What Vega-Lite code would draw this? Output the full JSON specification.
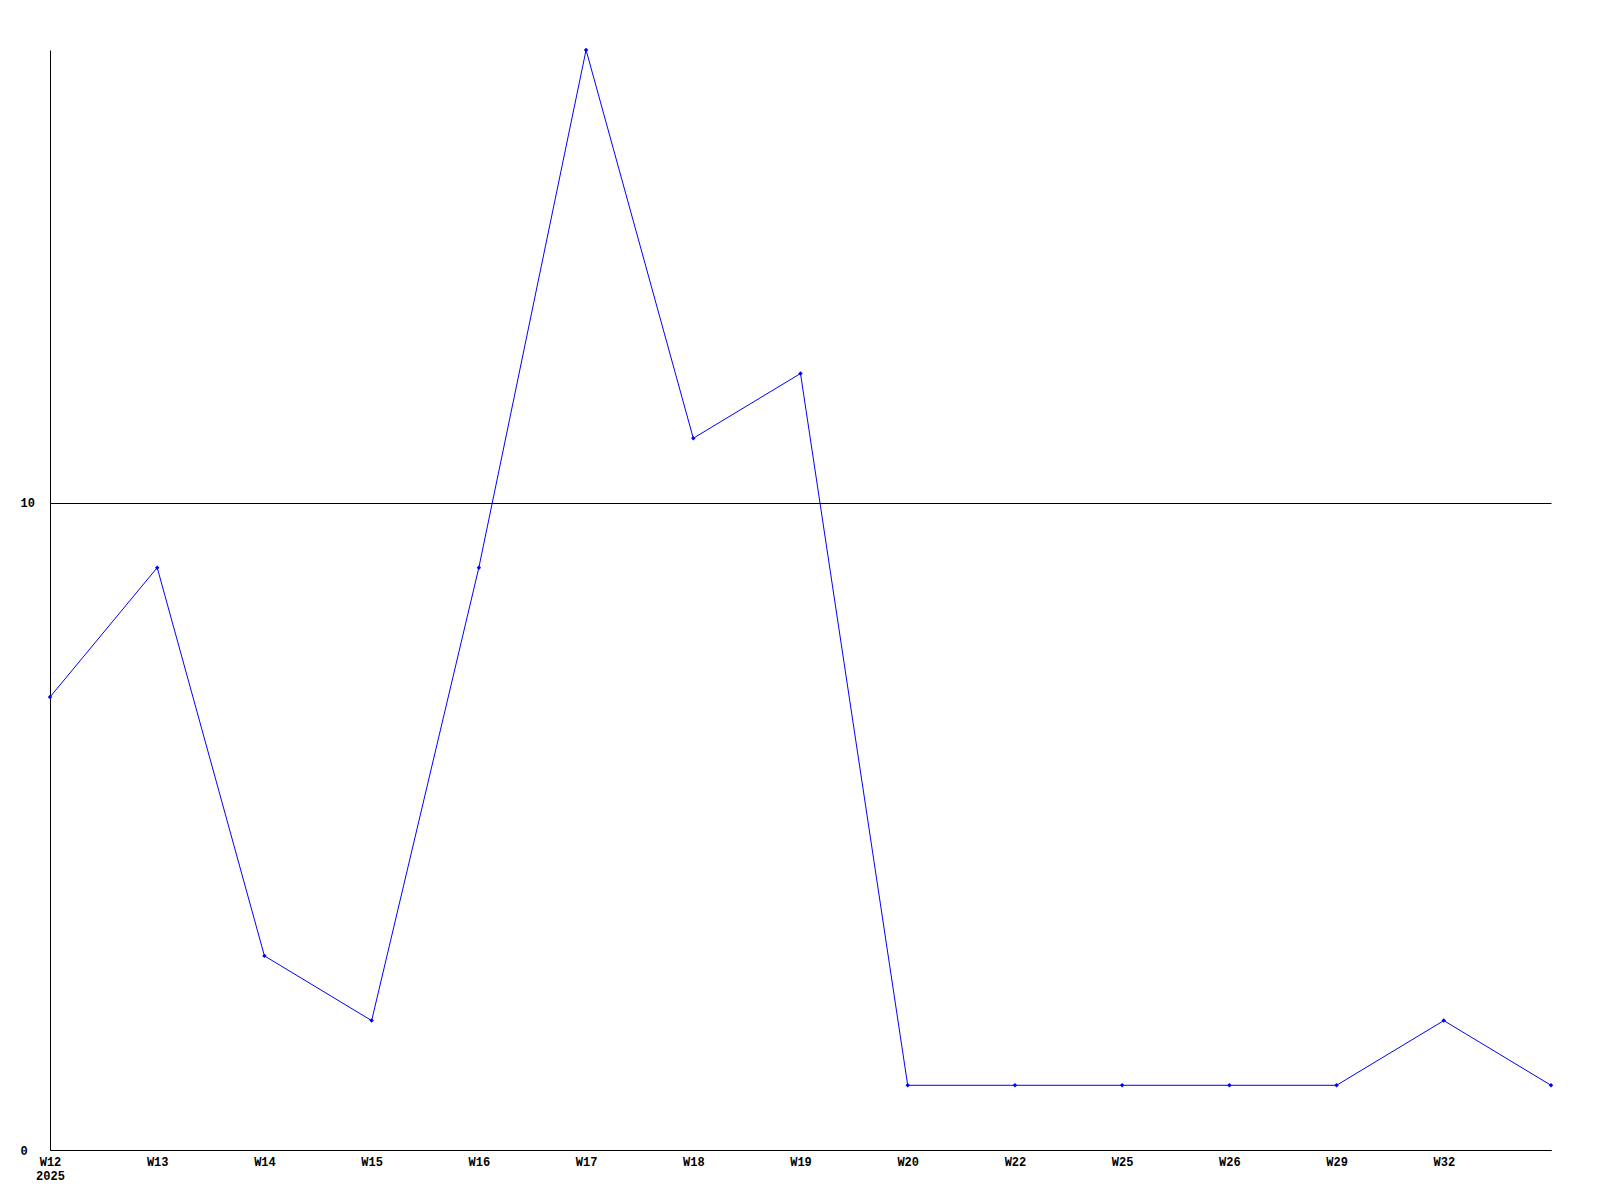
{
  "$schema": "https://vega.github.io/schema/vega-lite/v6.json",
  "autosize": "none",
  "width": 1501,
  "height": 1100,
  "padding": {"left": 50, "top": 50, "right": 49, "bottom": 50},
  "background": "white",
  "config": {"view": {"stroke": null}},
  "data": {
    "values": [
      {"week": "W12", "value": 7},
      {"week": "W13", "value": 9},
      {"week": "W14", "value": 3},
      {"week": "W15", "value": 2},
      {"week": "W16", "value": 9},
      {"week": "W17", "value": 17},
      {"week": "W18", "value": 11},
      {"week": "W19", "value": 12},
      {"week": "W20", "value": 1},
      {"week": "W22", "value": 1},
      {"week": "W25", "value": 1},
      {"week": "W26", "value": 1},
      {"week": "W29", "value": 1},
      {"week": "W32", "value": 2},
      {"week": "W33", "value": 1}
    ]
  },
  "encoding": {
    "x": {
      "field": "week",
      "type": "ordinal",
      "sort": null,
      "scale": {"type": "point", "padding": 0},
      "axis": {
        "title": null,
        "labelAngle": 0,
        "ticks": false,
        "tickSize": 0,
        "labelPadding": 6,
        "domainColor": "black",
        "domainWidth": 1,
        "labelFont": "Liberation Mono",
        "labelFontWeight": "bold",
        "labelFontSize": 12,
        "labelColor": "black",
        "labelBaseline": "top",
        "labelLineHeight": 14,
        "labelOverlap": false,
        "labelExpr": "datum.value == 'W33' ? '' : (datum.value == 'W12' ? ['W12', '2025'] : datum.value)"
      }
    },
    "y": {
      "field": "value",
      "type": "quantitative",
      "scale": {"domain": [0, 17], "nice": false, "zero": true},
      "axis": {
        "title": null,
        "values": [0, 10],
        "ticks": false,
        "tickSize": 0,
        "grid": true,
        "gridColor": "black",
        "gridOpacity": 1,
        "gridWidth": 1,
        "domainColor": "black",
        "domainWidth": 1,
        "labelAlign": "left",
        "labelPadding": 30,
        "labelBaseline": "middle",
        "labelFont": "Liberation Mono",
        "labelFontWeight": "bold",
        "labelFontSize": 12,
        "labelColor": "black"
      }
    }
  },
  "layer": [
    {"mark": {"type": "line", "color": "#0000ff", "strokeWidth": 1}},
    {"mark": {"type": "point", "shape": "diamond", "filled": true, "color": "#0000ff", "size": 20, "opacity": 1}}
  ]
}
